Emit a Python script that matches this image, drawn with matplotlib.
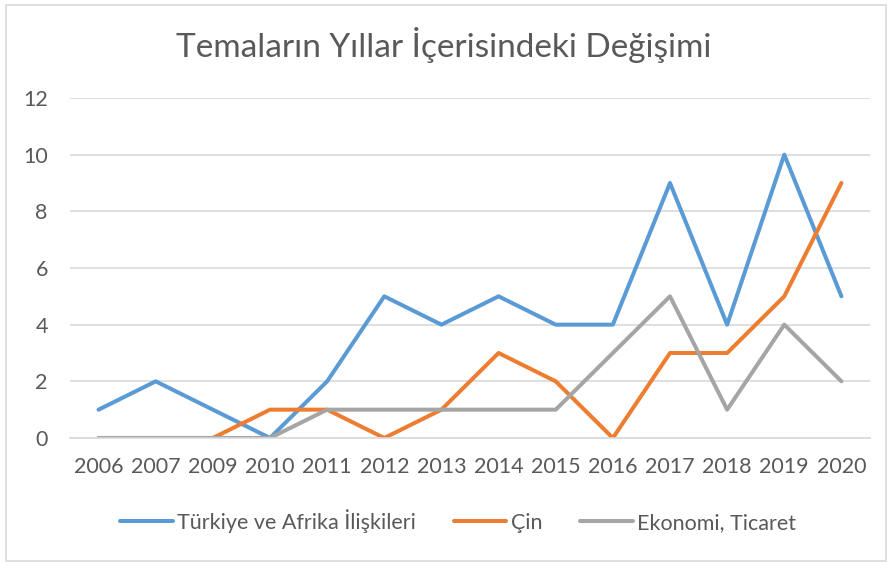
import matplotlib
matplotlib.use("Agg")
import matplotlib.pyplot as plt
from matplotlib.patches import Rectangle

years = ["2006", "2007", "2009", "2010", "2011", "2012", "2013", "2014",
         "2015", "2016", "2017", "2018", "2019", "2020"]
turkiye_afrika = [1, 2, 1, 0, 2, 5, 4, 5, 4, 4, 9, 4, 10, 5]
cin = [0, 0, 0, 1, 1, 0, 1, 3, 2, 0, 3, 3, 5, 9]
ekonomi_ticaret = [0, 0, 0, 0, 1, 1, 1, 1, 1, 3, 5, 1, 4, 2]
series_names = ["Türkiye ve Afrika İlişkileri", "Çin", "Ekonomi, Ticaret"]
yticks = [0, 2, 4, 6, 8, 10, 12]

plt.rcParams['font.family'] = ['Lato', 'DejaVu Sans']
text_color = "#595959"

fig = plt.figure(figsize=(8.88, 5.62), dpi=100)
ax = fig.add_axes([70/888, 1-438/562, 800/888, 340/562])

x = list(range(len(years)))
colors = ["#5B9BD5", "#ED7D31", "#A5A5A5"]
for vals, name, c in zip([turkiye_afrika, cin, ekonomi_ticaret], series_names, colors):
    ax.plot(x, vals, color=c, lw=2.9, label=name, solid_capstyle='round',
            solid_joinstyle='round')

ax.set_xlim(-0.5, len(years) - 0.5)
ax.set_ylim(0, 12)
ax.set_yticks(yticks)
ax.set_yticklabels([str(v) for v in yticks])
ax.set_xticks(x)
ax.set_xticklabels(years)
ax.grid(axis='y', color="#D9D9D9", lw=1.2)
ax.set_axisbelow(True)
for s in ["top", "right", "left"]:
    ax.spines[s].set_visible(False)
ax.spines["bottom"].set_color("#D9D9D9")
ax.spines["bottom"].set_linewidth(1.2)
ax.tick_params(axis='both', length=0, labelsize=15.5, colors=text_color)
ax.tick_params(axis='y', pad=16)
ax.tick_params(axis='x', pad=14)

fig.text(0.5, 1-45/562, "Temaların Yıllar İçerisindeki Değişimi", ha='center', va='center',
         fontsize=24, color=text_color)

leg = fig.legend(loc='center', bbox_to_anchor=(458/888, 1-521/562), ncol=3, frameon=False,
                 fontsize=15.5, handlelength=2.45, handletextpad=0.2, columnspacing=1.75)
for t in leg.get_texts():
    t.set_color(text_color)

fig.patches.append(Rectangle((6/888, 1/562), 880/888, 556/562, transform=fig.transFigure,
                             fill=False, edgecolor="#D9D9D9", lw=1.2))

fig.savefig("out.png", dpi=100)
